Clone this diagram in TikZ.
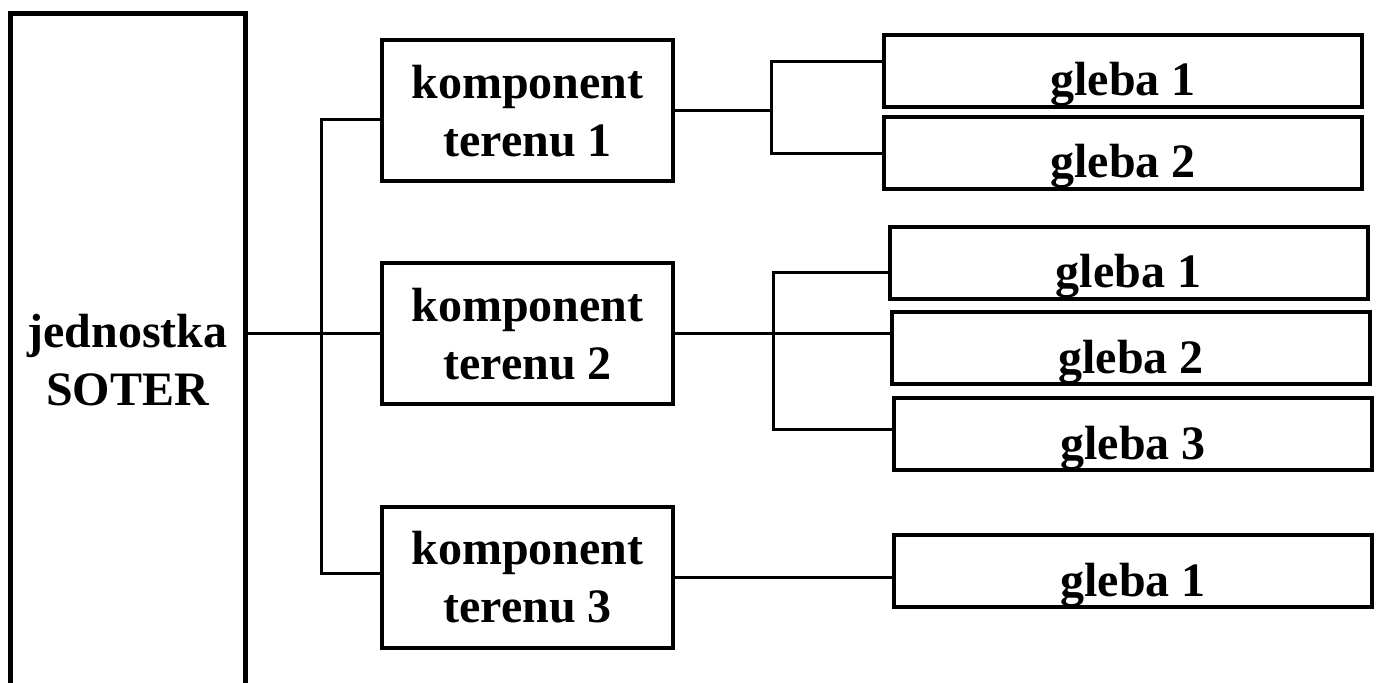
\documentclass[tikz,border=0pt]{standalone}
\usepackage{fontspec}
\setmainfont{Liberation Serif}

\begin{document}
\begin{tikzpicture}[x=0.5pt, y=-0.5pt,
					unit/.style={draw, line width=2.5pt, inner sep=0pt,
						minimum width=117.5pt, minimum height=346pt, align=center,
						font=\bfseries\fontsize{24}{29}\selectfont},
					komp/.style={draw, line width=2pt, inner sep=0pt,
						minimum width=145.5pt, minimum height=70.5pt, align=center,
						font=\bfseries\fontsize{24}{29}\selectfont},
					soil/.style={draw, line width=2pt, inner sep=0pt,
						minimum width=239pt, minimum height=36pt,
						text height=25pt, text depth=0pt,
						font=\bfseries\fontsize{24}{29}\selectfont},
					link/.style={line width=1.5pt}]

\clip (0,0) rectangle (1380,683);

\node[unit] (sot) at (127.5,360) {jednostka\\SOTER};

\node[komp] (k1) at (527.5,111) {komponent\\terenu 1};
\node[komp] (k2) at (527.5,334) {komponent\\terenu 2};
\node[komp] (k3) at (527.5,577) {komponent\\terenu 3};

\node[soil] (g11) at (1123,71) {gleba 1};
\node[soil] (g12) at (1123,153) {gleba 2};
\node[soil] (g21) at (1128.5,263) {gleba 1};
\node[soil] (g22) at (1131,348.5) {gleba 2};
\node[soil] (g23) at (1133,434) {gleba 3};
\node[soil] (g31) at (1133,571) {gleba 1};

\coordinate (t1) at (321,120);
\coordinate (t3) at (321,573);
\coordinate (b1) at (771,62);
\coordinate (b2) at (771,154);
\coordinate (c1) at (773,273);
\coordinate (c2) at (773,430);

\draw[link] (sot.east |- k2.west) -- (k2.west);
\draw[link] (k1.west |- t1) -- (t1) -- (t3) -- (k3.west |- t3);
\draw[link] (k1.east) -- (k1.east -| b1);
\draw[link] (g11.west |- b1) -- (b1) -- (b2) -- (g12.west |- b2);
\draw[link] (k2.east) -- (k2.east -| g22.west);
\draw[link] (g21.west |- c1) -- (c1) -- (c2) -- (g23.west |- c2);
\draw[link] (k3.east) -- (k3.east -| g31.west);
\end{tikzpicture}
\end{document}
